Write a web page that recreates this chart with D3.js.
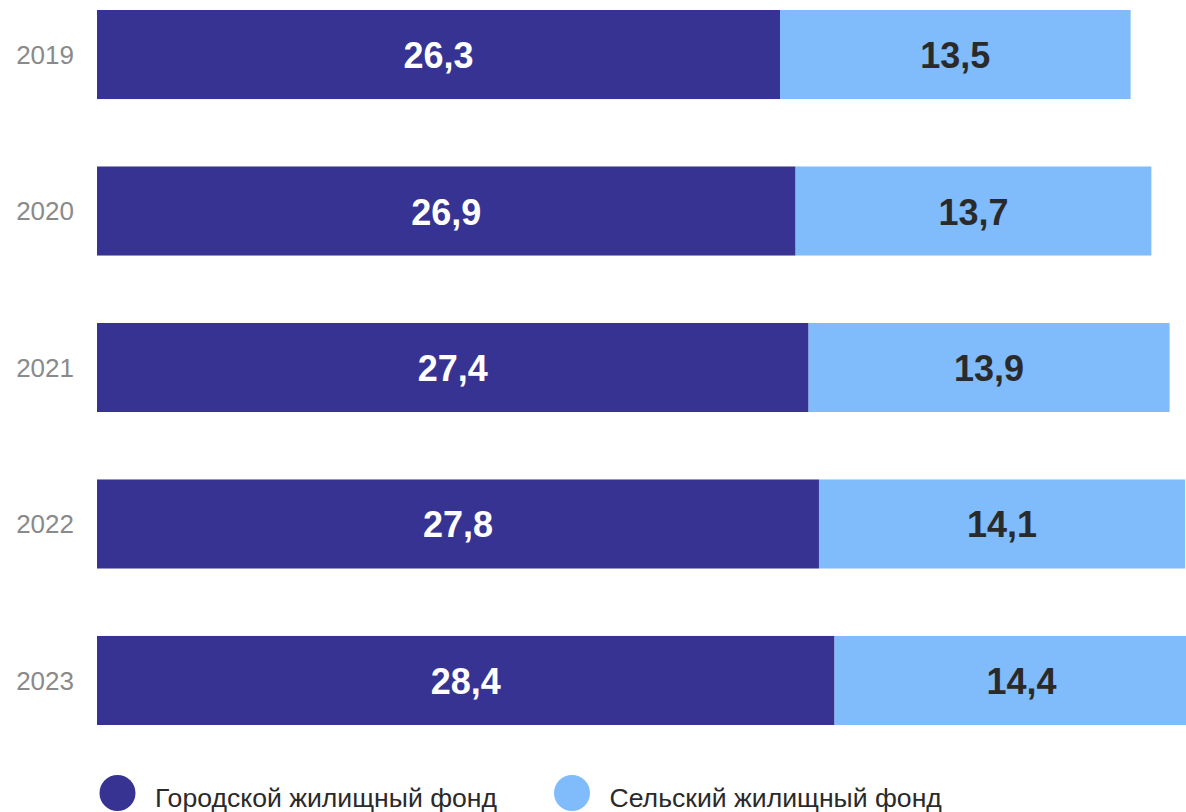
<!DOCTYPE html>
<html><head><meta charset="utf-8">
<script src="https://cdn.jsdelivr.net/npm/d3@7"></script>
<style>html,body{margin:0;padding:0;background:#fff;overflow:hidden}</style>
</head><body>
<svg id="c" width="1186" height="812"></svg>
<script>
const years = ["2019","2020","2021","2022","2023"];
const urban = [26.3, 26.9, 27.4, 27.8, 28.4];
const rural = [13.5, 13.7, 13.9, 14.1, 14.4];
const seriesNames = ["Городской жилищный фонд", "Сельский жилищный фонд"];
const colors = ["#373393", "#80bbfb"];

const svg = d3.select("#c");
const x = d3.scaleLinear().domain([0, 40]).range([97, 97 + 40 * 25.97]);
const y = d3.scaleBand().domain(years).range([10, 725]).paddingInner(0.431).paddingOuter(0);
const fmt = v => d3.format(".1f")(v).replace(".", ",");

const rows = years.map((yr, i) => ({yr, u: urban[i], r: rural[i]}));

const g = svg.append("g");
g.selectAll("rect.u").data(rows).join("rect").attr("class","u")
  .attr("x", x(0)).attr("y", d => y(d.yr))
  .attr("width", d => x(d.u) - x(0)).attr("height", y.bandwidth())
  .attr("fill", colors[0]);
g.selectAll("rect.r").data(rows).join("rect").attr("class","r")
  .attr("x", d => x(d.u)).attr("y", d => y(d.yr))
  .attr("width", d => x(d.u + d.r) - x(d.u)).attr("height", y.bandwidth())
  .attr("fill", colors[1]);

const lbl = (sel) => sel.attr("text-anchor","middle").attr("dominant-baseline","central")
  .attr("font-family","Liberation Sans, Arial, sans-serif").attr("font-weight","bold").attr("font-size", 36);
g.selectAll("text.u").data(rows).join("text").attr("class","u").call(lbl)
  .attr("x", d => (x(0) + x(d.u)) / 2).attr("y", d => y(d.yr) + y.bandwidth()/2 + 1)
  .attr("fill","#ffffff").text(d => fmt(d.u));
g.selectAll("text.r").data(rows).join("text").attr("class","r").call(lbl)
  .attr("x", d => (x(d.u) + x(d.u + d.r)) / 2).attr("y", d => y(d.yr) + y.bandwidth()/2 + 1)
  .attr("fill","#2a2a2a").text(d => fmt(d.r));

const yAxis = d3.axisLeft(y).tickSize(0).tickPadding(0);
const ya = svg.append("g").attr("transform","translate(74,0)").call(yAxis);
ya.select(".domain").remove();
ya.selectAll("text").attr("font-family","Liberation Sans, Arial, sans-serif")
  .attr("font-size",26).attr("fill","#8a8a8a").attr("dy","0.36em");

const legX = [117.5, 572];
const leg = svg.append("g").selectAll("g").data(seriesNames).join("g")
  .attr("transform", (d,i) => `translate(${legX[i]},793)`);
leg.append("circle").attr("r",18).attr("fill",(d,i) => colors[i]);
leg.append("text").attr("x",37.5).attr("y",14)
  .attr("font-family","Liberation Sans, Arial, sans-serif").attr("font-size",26.6)
  .attr("fill","#2a2a2a").text(d => d);
</script>
</body></html>
